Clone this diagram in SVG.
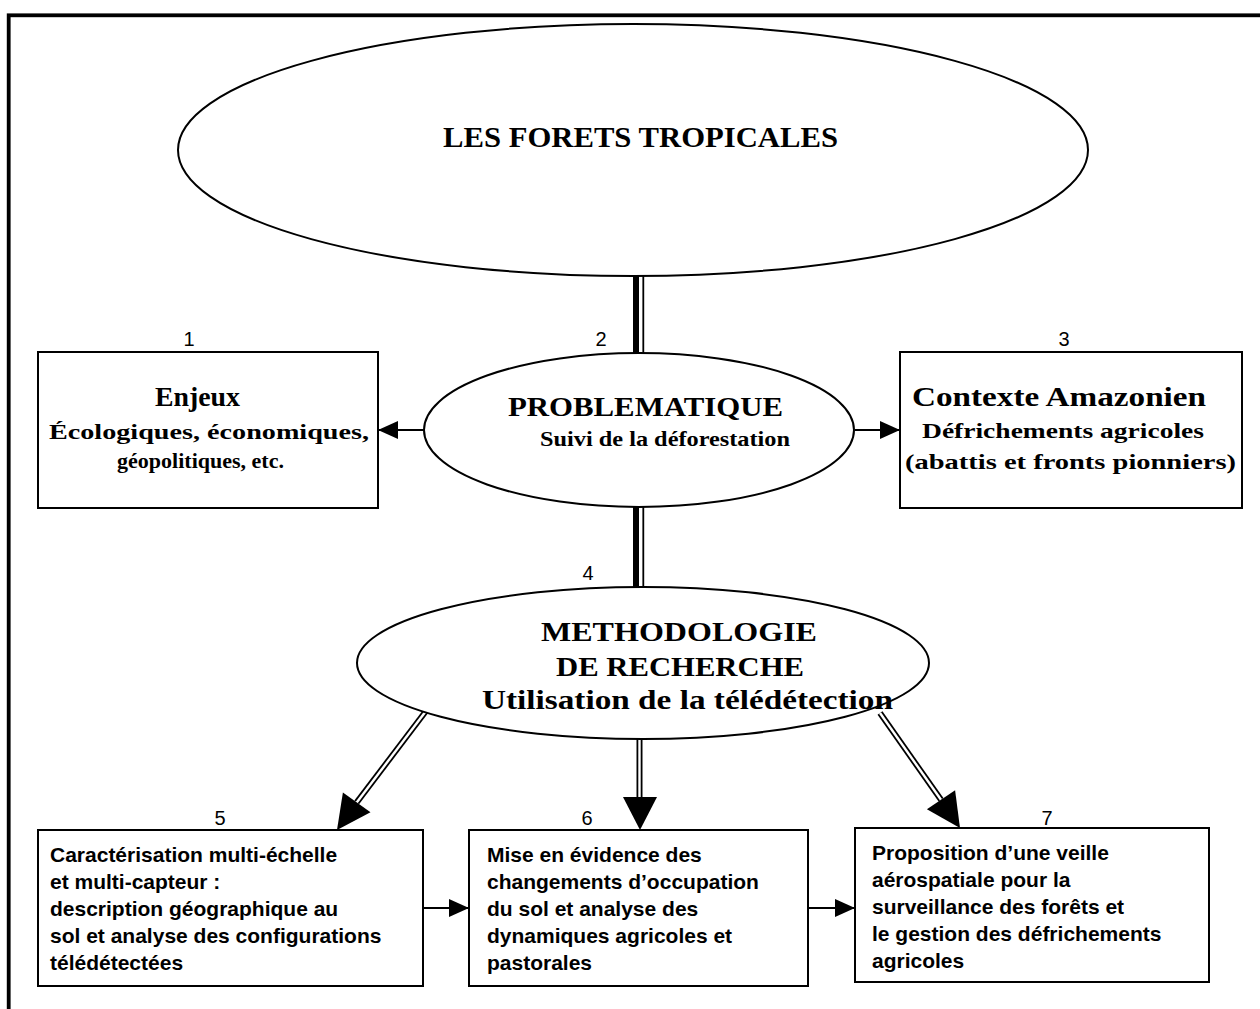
<svg xmlns="http://www.w3.org/2000/svg" width="1260" height="1009" viewBox="0 0 1260 1009">
<defs>
<style>
.shape{fill:#fff;stroke:#000;stroke-width:2}
.ser{font-family:"Liberation Serif","Times New Roman",serif;font-weight:bold;fill:#000}
.num{font-family:"Liberation Sans",Arial,sans-serif;font-size:20px;fill:#000;text-anchor:middle}
.body{font-family:"Liberation Sans",Arial,sans-serif;font-weight:bold;font-size:21px;fill:#000}
.ln{stroke:#000;stroke-width:2;fill:none}
.dbl{stroke:#000;stroke-width:6;fill:none}
.dblw{stroke:#fff;stroke-width:2.4;fill:none}
.head{fill:#000}
</style>
<marker id="ah" markerWidth="20" markerHeight="18" refX="20" refY="9" orient="auto" markerUnits="userSpaceOnUse">
<path d="M0,0 L20,9 L0,18 Z" fill="#000"/>
</marker>
</defs>
<rect x="0" y="0" width="1260" height="1009" fill="#fff"/>
<rect x="8.7" y="15.3" width="1400" height="1200" fill="none" stroke="#000" stroke-width="3.8"/>

<g id="connectors">
<rect x="633" y="275" width="6" height="79" fill="#000"/>
<line x1="643.3" y1="275" x2="643.3" y2="354" stroke="#000" stroke-width="1.8"/>
<rect x="633" y="505" width="6" height="84" fill="#000"/>
<line x1="643.3" y1="505" x2="643.3" y2="589" stroke="#000" stroke-width="1.8"/>
<line class="ln" x1="424" y1="430" x2="378" y2="430" marker-end="url(#ah)"/>
<line class="ln" x1="855" y1="430" x2="900" y2="430" marker-end="url(#ah)"/>
<line class="ln" x1="423" y1="908" x2="469" y2="908" marker-end="url(#ah)"/>
<line class="ln" x1="808" y1="908" x2="855" y2="908" marker-end="url(#ah)"/>
<line class="dbl" x1="426" y1="711" x2="356.7" y2="802.4"/>
<line class="dblw" x1="426" y1="711" x2="356.7" y2="802.4"/>
<polygon class="head" points="337,830 370.5,812.3 342.9,792.5"/>
<line class="dbl" x1="639.5" y1="739" x2="639.5" y2="798"/>
<line class="dblw" x1="639.5" y1="739" x2="639.5" y2="798"/>
<polygon class="head" points="640,830 623,797 657,797"/>
<line class="dbl" x1="880" y1="713" x2="941" y2="799.8"/>
<line class="dblw" x1="880" y1="713" x2="941" y2="799.8"/>
<polygon class="head" points="960,828 955.1,790.3 926.9,809.3"/>
</g>

<g id="n-forets">
<ellipse class="shape" cx="633" cy="150" rx="455" ry="126"/>
<text class="ser" x="443" y="147" font-size="29" textLength="395" lengthAdjust="spacingAndGlyphs">LES FORETS TROPICALES</text>
</g>

<g id="n-enjeux">
<text class="num" x="189" y="346">1</text>
<rect class="shape" x="38" y="352" width="340" height="156"/>
<text class="ser" x="155" y="406" font-size="28" textLength="85" lengthAdjust="spacingAndGlyphs">Enjeux</text>
<text class="ser" x="49" y="439" font-size="22" textLength="320" lengthAdjust="spacingAndGlyphs">Écologiques, économiques,</text>
<text class="ser" x="117" y="468" font-size="22" textLength="167" lengthAdjust="spacingAndGlyphs">géopolitiques, etc.</text>
</g>

<g id="n-problematique">
<text class="num" x="601" y="346">2</text>
<ellipse class="shape" cx="639" cy="430" rx="215" ry="77"/>
<text class="ser" x="508" y="416" font-size="28" textLength="275" lengthAdjust="spacingAndGlyphs">PROBLEMATIQUE</text>
<text class="ser" x="540" y="446" font-size="22" textLength="250" lengthAdjust="spacingAndGlyphs">Suivi de la déforestation</text>
</g>

<g id="n-contexte">
<text class="num" x="1064" y="346">3</text>
<rect class="shape" x="900" y="352" width="342" height="156"/>
<text class="ser" x="912" y="406" font-size="28" textLength="294" lengthAdjust="spacingAndGlyphs">Contexte Amazonien</text>
<text class="ser" x="922" y="438" font-size="22" textLength="282" lengthAdjust="spacingAndGlyphs">Défrichements agricoles</text>
<text class="ser" x="905" y="469" font-size="22" textLength="331" lengthAdjust="spacingAndGlyphs">(abattis et fronts pionniers)</text>
</g>

<g id="n-methodologie">
<text class="num" x="588" y="580">4</text>
<ellipse class="shape" cx="643" cy="663" rx="286" ry="76"/>
<text class="ser" x="541" y="641" font-size="28" textLength="276" lengthAdjust="spacingAndGlyphs">METHODOLOGIE</text>
<text class="ser" x="556" y="676" font-size="28" textLength="248" lengthAdjust="spacingAndGlyphs">DE RECHERCHE</text>
<text class="ser" x="482" y="709" font-size="28" textLength="411" lengthAdjust="spacingAndGlyphs">Utilisation de la télédétection</text>
</g>

<g id="n-caracterisation">
<text class="num" x="220" y="825">5</text>
<rect class="shape" x="38" y="830" width="385" height="156"/>
<text class="body" x="50" y="862">Caractérisation multi-échelle</text>
<text class="body" x="50" y="889">et multi-capteur :</text>
<text class="body" x="50" y="916">description géographique au</text>
<text class="body" x="50" y="943">sol et analyse des configurations</text>
<text class="body" x="50" y="970">télédétectées</text>
</g>

<g id="n-changements">
<text class="num" x="587" y="825">6</text>
<rect class="shape" x="469" y="830" width="339" height="156"/>
<text class="body" x="487" y="862">Mise en évidence des</text>
<text class="body" x="487" y="889">changements d’occupation</text>
<text class="body" x="487" y="916">du sol et analyse des</text>
<text class="body" x="487" y="943">dynamiques agricoles et</text>
<text class="body" x="487" y="970">pastorales</text>
</g>

<g id="n-veille">
<text class="num" x="1047" y="825">7</text>
<rect class="shape" x="855" y="828" width="354" height="154"/>
<text class="body" x="872" y="860">Proposition d’une veille</text>
<text class="body" x="872" y="887">aérospatiale pour la</text>
<text class="body" x="872" y="914">surveillance des forêts et</text>
<text class="body" x="872" y="941">le gestion des défrichements</text>
<text class="body" x="872" y="968">agricoles</text>
</g>
</svg>
